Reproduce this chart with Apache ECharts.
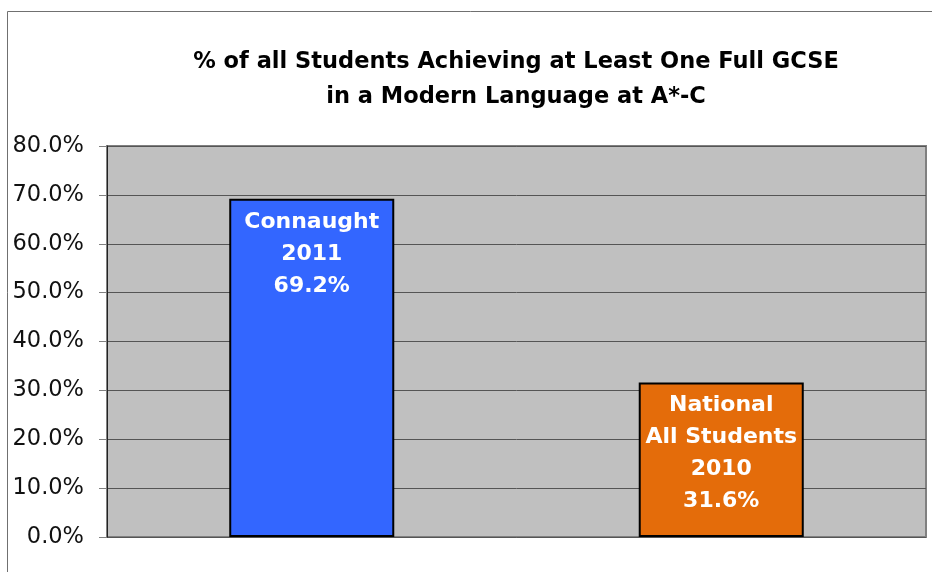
<!DOCTYPE html>
<html>
<head>
<meta charset="utf-8">
<script src="https://cdn.jsdelivr.net/npm/echarts@6/dist/echarts.min.js"></script>
<style>
  html, body { margin: 0; padding: 0; background: #fff; }
  #chart { width: 932px; height: 572px; }
</style>
</head>
<body>
<div id="chart"></div>
<script>
const categories = ['Connaught\n2011', 'National\nAll Students\n2010'];
const values = [69.2, 31.6];
const barColors = ['#3366FF', '#E46C0A'];
const yTicks = [0, 10, 20, 30, 40, 50, 60, 70, 80];

const fontFamily = '"DejaVu Sans", sans-serif';

function getOption() {
    return {
        backgroundColor: '#fff',
        animation: false,
        title: {
            text: '% of all Students Achieving at Least One Full GCSE\nin a Modern Language at A*-C',
            left: 511,
            top: 40,
            textAlign: 'center',
            textStyle: {
                fontFamily: fontFamily,
                fontSize: 22.5,
                fontWeight: 'bold',
                color: '#000',
                lineHeight: 35
            }
        },
        graphic: [
            {
                type: 'polyline',
                shape: { points: [[7.5, 580], [7.5, 11.5], [940, 11.5]] },
                style: { stroke: '#707070', lineWidth: 1, fill: null },
                silent: true
            }
        ],
        grid: {
            left: 107,
            right: 6,
            top: 146,
            bottom: 35,
            show: true,
            backgroundColor: '#C0C0C0',
            borderColor: '#808080',
            borderWidth: 2
        },
        xAxis: {
            type: 'category',
            data: categories,
            axisLine: { show: false },
            axisTick: { show: false },
            axisLabel: { show: false }
        },
        yAxis: {
            type: 'value',
            min: yTicks[0],
            max: yTicks[yTicks.length - 1],
            interval: 10,
            axisLine: { show: true, lineStyle: { color: '#222', width: 1 } },
            axisTick: { show: true, length: 8, lineStyle: { color: '#808080' } },
            splitLine: { lineStyle: { color: '#555', width: 1 } },
            axisLabel: {
                formatter: (v) => v.toFixed(1) + '%',
                fontFamily: fontFamily,
                fontSize: 22.5,
                color: '#111',
                margin: 23
            }
        },
        series: [
            {
                type: 'bar',
                barWidth: '40.3%',
                data: values.map((v, i) => ({
                    value: v,
                    itemStyle: { color: barColors[i] }
                })),
                itemStyle: { borderColor: '#000', borderWidth: 2 },
                label: {
                    show: true,
                    position: 'insideTop',
                    distance: 7,
                    formatter: (p) => p.name + '\n' + p.value.toFixed(1) + '%',
                    fontFamily: fontFamily,
                    fontSize: 22,
                    fontWeight: 'bold',
                    color: '#fff',
                    lineHeight: 32,
                    align: 'center'
                }
            }
        ]
    };
}

const myChart = echarts.init(document.getElementById('chart'));
myChart.setOption(getOption());
</script>
</body>
</html>
